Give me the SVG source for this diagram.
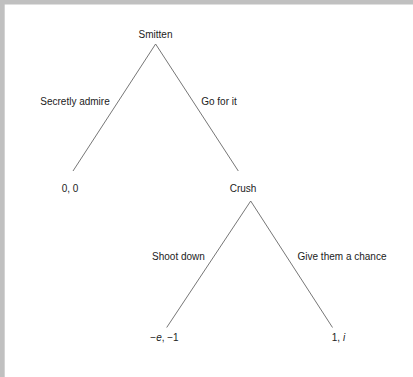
<svg xmlns="http://www.w3.org/2000/svg" width="413" height="377" viewBox="0 0 413 377">
<style>
text{font-family:"Liberation Sans",Arial,sans-serif;font-size:10px;fill:#222}
.edge{stroke:#666;stroke-width:0.9;fill:none}
.m{text-anchor:middle}
</style>
<rect x="0" y="0" width="413" height="377" fill="#ffffff"/>
<rect x="0" y="0" width="413" height="4.5" fill="#c0c0c0"/>
<rect x="0" y="0" width="4.7" height="377" fill="#c0c0c0"/>
<g id="connectors">
<line class="edge" x1="155.6" y1="44" x2="73" y2="171"/>
<line class="edge" x1="155.6" y1="44" x2="238.3" y2="171"/>
<line class="edge" x1="250.7" y1="201" x2="166.7" y2="327.5"/>
<line class="edge" x1="250.7" y1="201" x2="332.5" y2="327.5"/>
<text x="75" y="104.5" class="m">Secretly admire</text>
<text x="219" y="104.5" class="m">Go for it</text>
<text x="178.5" y="259.5" class="m">Shoot down</text>
<text x="342" y="259.5" class="m">Give them a chance</text>
</g>
<g id="smitten"><text x="155.5" y="38.3" class="m">Smitten</text></g>
<g id="payoff00"><text x="70" y="192.3" class="m">0, 0</text></g>
<g id="crush"><text x="243" y="192.3" class="m">Crush</text></g>
<g id="payoffShoot"><text x="164.5" y="341" class="m">−<tspan font-style="italic">e</tspan>, −1</text></g>
<g id="payoffChance"><text x="338.5" y="341" class="m">1, <tspan font-style="italic">i</tspan></text></g>
</svg>
